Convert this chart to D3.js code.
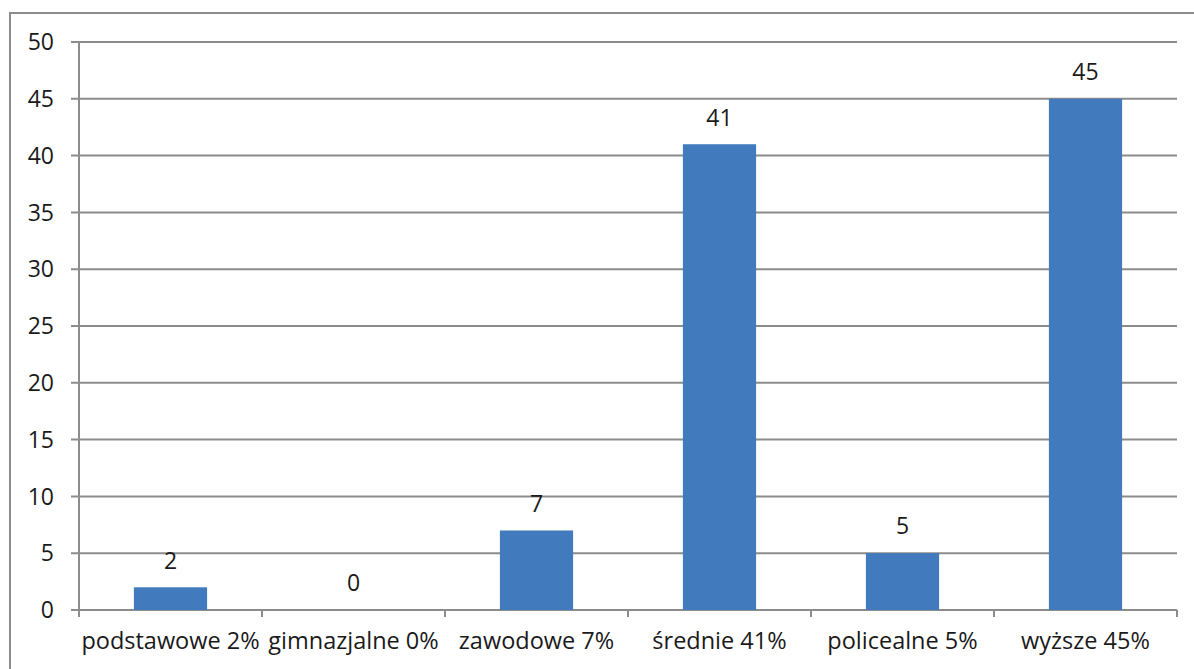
<!DOCTYPE html>
<html><head><meta charset="utf-8">
<script src="https://cdn.jsdelivr.net/npm/d3@7"></script>
<style>body{margin:0;background:#fff}svg{display:block}text{font-family:"Open Sans",Lato,sans-serif;fill:#1a1a1a}</style>
</head><body><svg id="c" width="1194" height="669"></svg>
<script>
const categories = ["podstawowe 2%","gimnazjalne 0%","zawodowe 7%","średnie 41%","policealne 5%","wyższe 45%"];
const values = [2,0,7,41,5,45];
const yTicks = [0,5,10,15,20,25,30,35,40,45,50];

const svg = d3.select("#c");
const L=79, R=1177, T=42, B=610;
const x = d3.scaleBand().domain(categories).range([L,R]).paddingInner(0.6).paddingOuter(0.3);
const y = d3.scaleLinear().domain([0,50]).range([B,T]);
const grid="#8c8c8c";

svg.append("rect").attr("x",10).attr("y",13).attr("width",1300).attr("height",800)
  .attr("fill","none").attr("stroke",grid).attr("stroke-width",2);

// gridlines
svg.append("g").selectAll("line").data(yTicks).join("line")
  .attr("x1",71).attr("x2",R).attr("y1",d=>y(d)).attr("y2",d=>y(d))
  .attr("stroke",grid).attr("stroke-width",2);
// y axis line
svg.append("line").attr("x1",L).attr("x2",L).attr("y1",T).attr("y2",B+7).attr("stroke",grid).attr("stroke-width",2);
// x category ticks
const step = (R-L)/categories.length;
const xt = d3.range(categories.length+1).map(i=>L+i*step);
svg.append("g").selectAll("line").data(xt).join("line")
  .attr("x1",d=>d).attr("x2",d=>d).attr("y1",B).attr("y2",B+7).attr("stroke",grid).attr("stroke-width",2);

// y labels
svg.append("g").selectAll("text").data(yTicks).join("text")
  .attr("x",54).attr("y",d=>y(d)).attr("dy","0.36em").attr("text-anchor","end")
  .style("font-size","23px").text(d=>d);

// bars
svg.append("g").selectAll("rect").data(values).join("rect")
  .attr("x",(d,i)=>x(categories[i])).attr("width",x.bandwidth())
  .attr("y",d=>y(d)).attr("height",d=>B-y(d)).attr("fill","#417bbd");

// value labels
svg.append("g").selectAll("text").data(values).join("text")
  .attr("x",(d,i)=>x(categories[i])+x.bandwidth()/2).attr("y",d=>y(d)-27).attr("dy","0.36em")
  .attr("text-anchor","middle").style("font-size","23px").text(d=>d);

// x labels
svg.append("g").selectAll("text").data(categories).join("text")
  .attr("x",d=>x(d)+x.bandwidth()/2).attr("y",641).attr("dy","0.36em")
  .attr("text-anchor","middle").style("font-size","23.5px").text(d=>d);
</script></body></html>
